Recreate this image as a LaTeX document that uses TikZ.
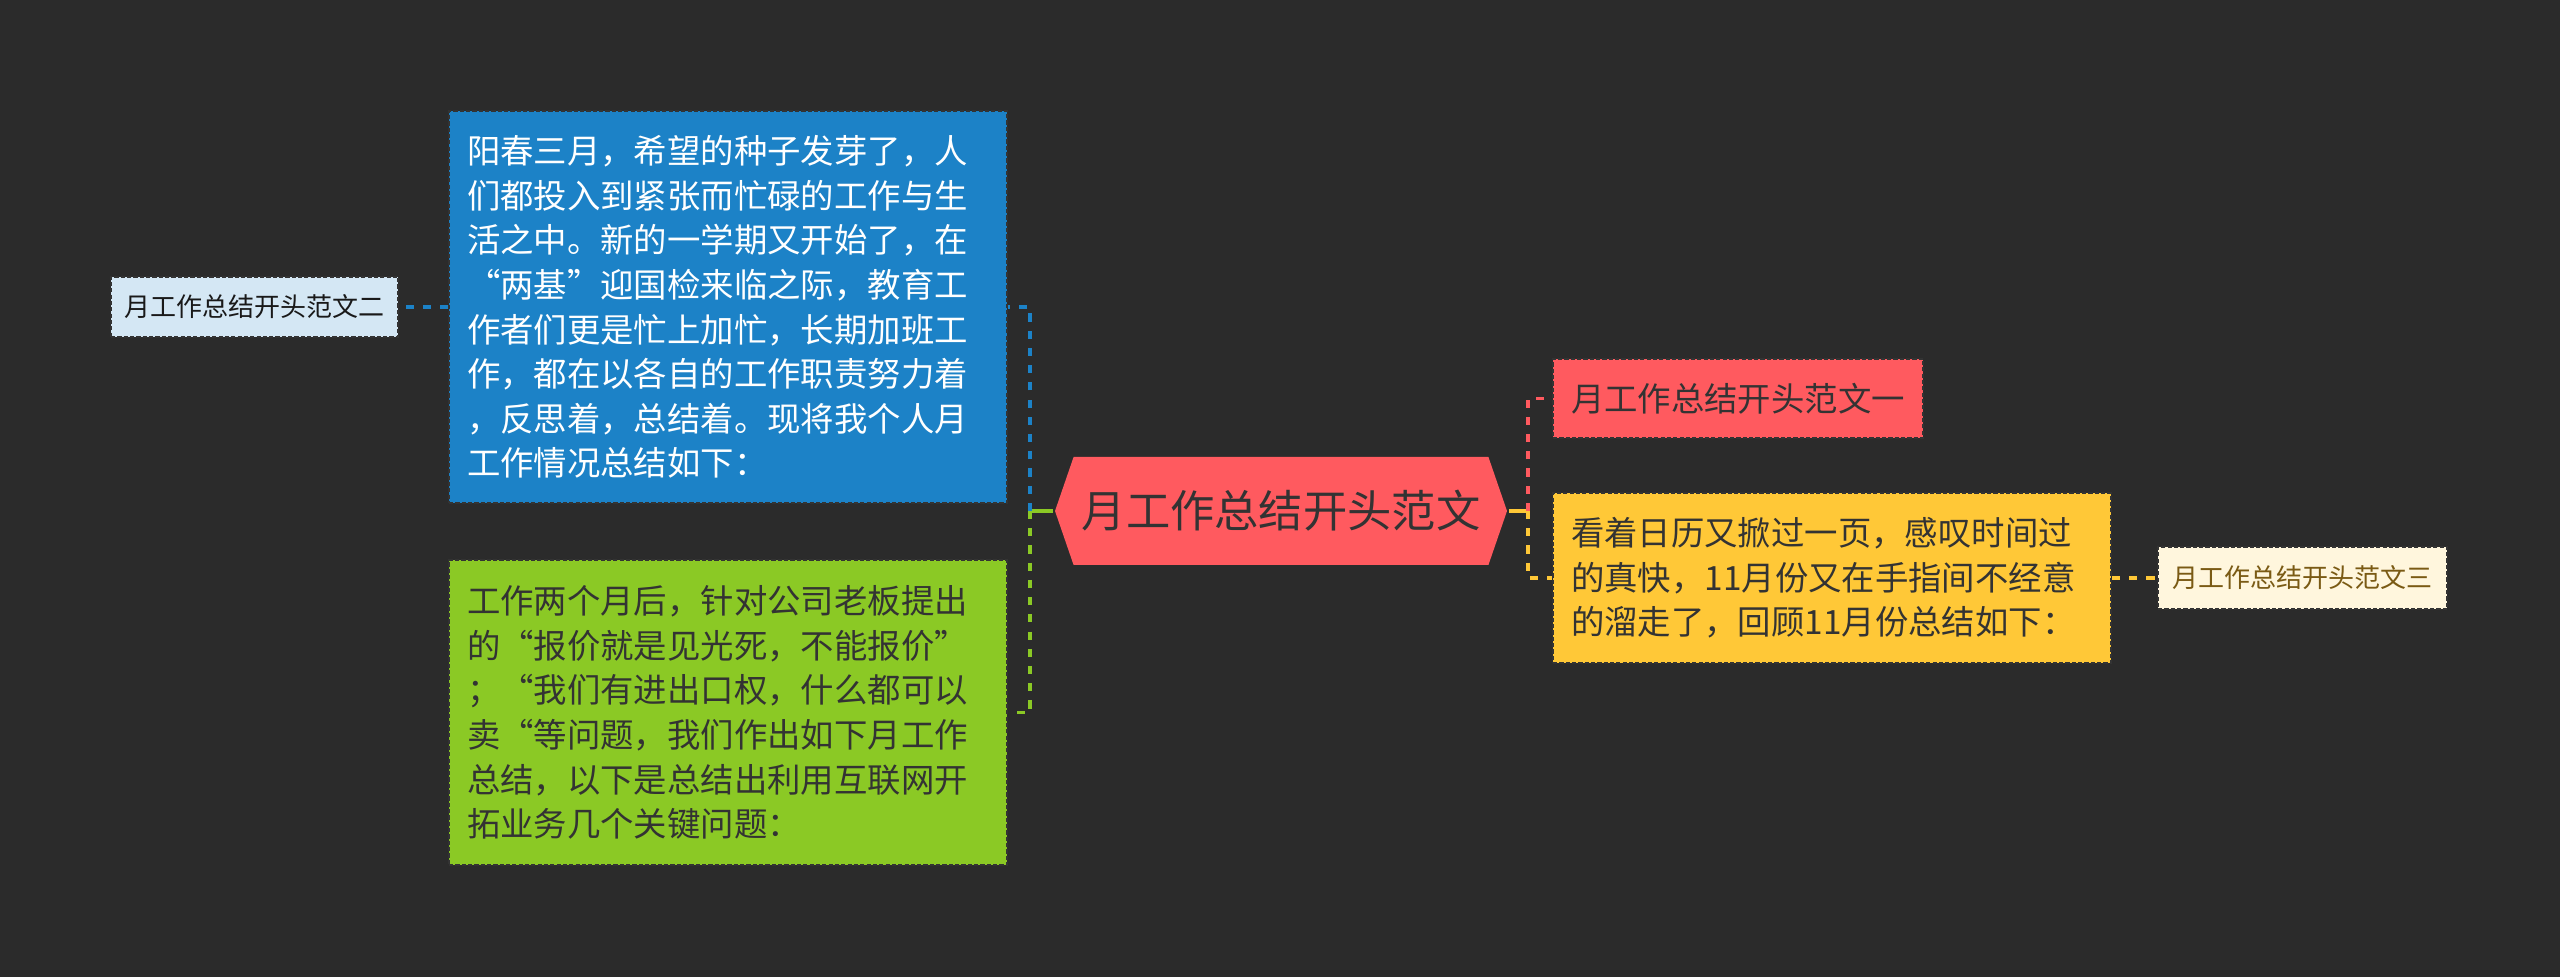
\documentclass[tikz,border=0pt]{standalone}
\usepackage{fontspec}
\setmainfont{Noto Sans CJK SC}
\usetikzlibrary{shapes.symbols}
\definecolor{bgdark}{HTML}{2B2B2B}
\definecolor{hexred}{HTML}{FF5A5F}
\definecolor{boxblue}{HTML}{1C82C7}
\definecolor{boxgreen}{HTML}{8BC925}
\definecolor{boxyellow}{HTML}{FFC837}
\definecolor{paleblue}{HTML}{D4E7F4}
\definecolor{palecream}{HTML}{FFF6DD}
\definecolor{darktext}{HTML}{333333}
\definecolor{browntext}{HTML}{7A5A14}
\newcommand{\bodysize}{\fontsize{9.5pt}{12.7pt}\selectfont}

\begin{document}
\begin{tikzpicture}
[font=\bodysize, line width=0.95pt]
\tikzstyle{root}=[signal, signal to=west and east, signal pointer angle=142, fill=hexred, text=darktext, inner sep=0pt, minimum width=4.52cm, minimum height=1.08cm, font=\fontsize{12.6pt}{14pt}\selectfont]
\tikzstyle{para}=[rectangle, draw=black!80, line width=0.55pt, dash pattern=on 1.2pt off 0.6pt, align=left, text width=5.22cm, inner xsep=0.18cm, inner ysep=0pt, text=darktext]
\tikzstyle{leaf}=[rectangle, draw=black!80, line width=0.55pt, dash pattern=on 1.2pt off 0.6pt, inner sep=0pt, font=\fontsize{7.4pt}{9pt}\selectfont]
\tikzstyle{link}=[line width=1.1pt, dash pattern=on 2.3pt off 2.6pt]

\fill[bgdark] (0,0) rectangle (25.6,-9.77);
\useasboundingbox (0,0) rectangle (25.6,-9.77);

\node[root] (R) at (12.81,-5.11) {月工作总结开头范文};

\node[para, fill=boxblue, text=white, minimum height=3.92cm] (B) at (7.28,-3.07)
  {阳春三月，希望的种子发芽了，人\\们都投入到紧张而忙碌的工作与生\\活之中。新的一学期又开始了，在\\“两基”迎国检来临之际，教育工\\作者们更是忙上加忙，长期加班工\\作，都在以各自的工作职责努力着\\，反思着，总结着。现将我个人月\\工作情况总结如下：};
\node[para, fill=boxgreen, minimum height=3.05cm] (G) at (7.28,-7.125)
  {工作两个月后，针对公司老板提出\\的“报价就是见光死，不能报价”\\；“我们有进出口权，什么都可以\\卖“等问题，我们作出如下月工作\\总结，以下是总结出利用互联网开\\拓业务几个关键问题：};
\node[leaf, fill=paleblue, text=black!90, minimum width=2.87cm, minimum height=0.60cm] (L) at (2.545,-3.07) {月工作总结开头范文二};

\node[para, fill=hexred, text width=3.34cm, minimum height=0.79cm] (F) at (17.38,-3.985) {月工作总结开头范文一};
\node[para, fill=boxyellow, minimum height=1.70cm] (Y) at (18.32,-5.78)
  {看着日历又掀过一页，感叹时间过\\的真快，11月份又在手指间不经意\\的溜走了，回顾11月份总结如下：};
\node[leaf, fill=palecream, text=browntext, minimum width=2.89cm, minimum height=0.62cm] (S) at (23.025,-5.78) {月工作总结开头范文三};

\coordinate (JL) at (10.30,-5.11);
\coordinate (JR) at (15.28,-5.11);

\draw[boxgreen] (R.west) -- (JL);
\draw[link, boxblue] (JL) |- (B.east);
\draw[link, boxgreen] (JL) |- (G.east);
\draw[link, boxblue] (B.west) -- (L.east);
\draw[boxyellow] (R.east) -- (JR);
\draw[link, hexred] (JR) |- (F.west);
\draw[link, boxyellow] (JR) |- (Y.west);
\draw[link, boxyellow] (Y.east) -- (S.west);
\end{tikzpicture}
\end{document}
